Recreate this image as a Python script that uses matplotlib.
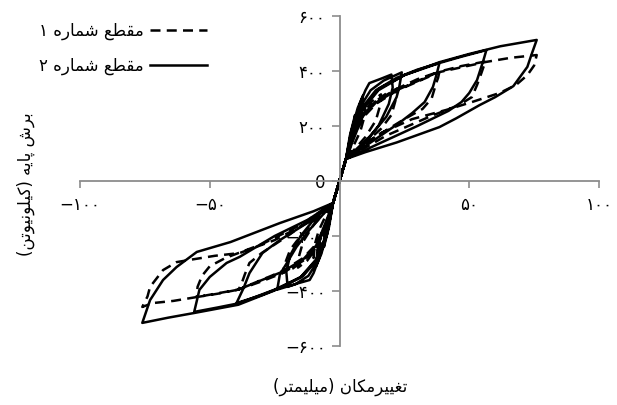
import re
import matplotlib
matplotlib.use("Agg")
import matplotlib.pyplot as plt

plt.rcParams["font.family"] = ["DejaVu Sans"]

# Persian letter forms: isolated, final, initial, medial
FORMS = {
    "ا": ("\ufe8d", "\ufe8e", None, None),
    "ب": ("\ufe8f", "\ufe90", "\ufe91", "\ufe92"),
    "پ": ("\ufb56", "\ufb57", "\ufb58", "\ufb59"),
    "ت": ("\ufe95", "\ufe96", "\ufe97", "\ufe98"),
    "ر": ("\ufead", "\ufeae", None, None),
    "ش": ("\ufeb5", "\ufeb6", "\ufeb7", "\ufeb8"),
    "ط": ("\ufec1", "\ufec2", "\ufec3", "\ufec4"),
    "ع": ("\ufec9", "\ufeca", "\ufecb", "\ufecc"),
    "غ": ("\ufecd", "\ufece", "\ufecf", "\ufed0"),
    "ق": ("\ufed5", "\ufed6", "\ufed7", "\ufed8"),
    "ک": ("\ufb8e", "\ufb8f", "\ufb90", "\ufb91"),
    "ل": ("\ufedd", "\ufede", "\ufedf", "\ufee0"),
    "م": ("\ufee1", "\ufee2", "\ufee3", "\ufee4"),
    "ن": ("\ufee5", "\ufee6", "\ufee7", "\ufee8"),
    "ه": ("\ufee9", "\ufeea", "\ufeeb", "\ufeec"),
    "و": ("\ufeed", "\ufeee", None, None),
    "ی": ("\ufbfc", "\ufbfd", "\ufbfe", "\ufbff"),
}
MIRROR = {"(": ")", ")": "("}


def farsi(text):
    """Join Persian letters and put them in left-to-right drawing order."""
    out = []
    for i, ch in enumerate(text):
        if ch not in FORMS:
            out.append(MIRROR.get(ch, ch))
            continue
        prev = text[i - 1] if i > 0 else ""
        nxt = text[i + 1] if i + 1 < len(text) else ""
        joins_prev = prev in FORMS and FORMS[prev][2] is not None
        joins_next = nxt in FORMS and FORMS[ch][2] is not None
        iso, fin, ini, med = FORMS[ch]
        if joins_prev and joins_next:
            out.append(med)
        elif joins_prev:
            out.append(fin)
        elif joins_next:
            out.append(ini)
        else:
            out.append(iso)
    vis = "".join(reversed(out))
    # numbers keep their own left-to-right order
    return re.sub(r"[\u06f0-\u06f9]+", lambda m: m.group(0)[::-1], vis)


# section 1 (dashed): displacement (mm) and base shear (kN), cycle by cycle
sec1_disp = [
    2.5, 4, 6, 5.5, 4.5, 2.5, -2.5, -4, -6, -5.5, -4.5, -2.5,
    2.5, 5, 7.5, 10, 9.5, 8, 5, 2.5, -2.5, -5, -7.5, -10, -9.5, -8, -5, -2.5,
    2.5, 5, 9, 12.5, 16, 15.5, 14, 10, 2.5, -2.5, -5, -9, -12.5, -16, -15.5, -14, -10, -2.5,
    2.5, 5, 9, 14, 18, 22, 21.5, 20, 16, 9, 2.5, -2.5, -5, -9, -14, -18, -22, -21, -19, -16.6, -10, -2.5,
    2.5, 5, 9, 14, 22, 30, 38.5, 38, 37.4, 35.5, 32, 25, 12, 2.5,
    -2.5, -5, -9, -14, -22, -30, -39, -38, -36.5, -34.7, -30, -20, -2.5,
    2.5, 5, 9, 14, 22, 38.5, 47, 56.5, 55.5, 54.7, 53, 51, 46, 35, 18, 2.5,
    -2.5, -5, -9, -14, -22, -39, -47, -55, -54.7, -53, -50, -44, -30, -15, -2.5,
    2.5, 5, 9, 14, 22, 38.5, 56.5, 66, 76, 75, 72.4, 68, 61.7, 51, 41, 28, 15, 2.5,
    -2.5, -5, -9, -14, -22, -39, -55, -64, -72, -76, -74, -73, -68, -62.8, -57.8, -48, -38.5, -25, -12, -2.5,
]
sec1_force = [
    80, 150, 220, 175, 130, 80, -80, -150, -220, -175, -130, -80,
    80, 170, 235, 280, 230, 180, 120, 80, -80, -170, -235, -280, -230, -180, -120, -80,
    80, 165, 245, 290, 315, 270, 220, 160, 80, -80, -165, -245, -290, -315, -270, -220, -160, -80,
    80, 160, 240, 290, 318, 335, 290, 240, 190, 130, 80, -80, -160, -240, -290, -318, -335, -300, -250, -220, -150, -80,
    80, 160, 240, 290, 335, 370, 398, 375, 360, 300, 262, 225, 150, 80,
    -80, -160, -240, -290, -335, -365, -395, -380, -340, -298, -262, -200, -80,
    80, 155, 235, 285, 330, 398, 418, 435, 415, 393, 349, 305, 276, 235, 165, 80,
    -80, -155, -235, -285, -330, -395, -410, -422, -385, -345, -310, -280, -230, -160, -80,
    80, 150, 230, 280, 328, 396, 433, 448, 458, 420, 385, 349, 320, 287, 258, 225, 170, 80,
    -80, -150, -230, -280, -328, -395, -422, -436, -444, -458, -420, -385, -324, -295, -287, -272, -262, -215, -150, -80,
]

# section 2 (solid)
sec2_disp = [
    2.5, 4, 6, 5.5, 4.5, 2.5, -2.5, -4, -6, -5.5, -4.5, -2.5,
    2.5, 4.5, 7, 9, 8.5, 7, 4.5, 2.5, -2.5, -4.5, -7, -9, -8.5, -7, -4.5, -2.5,
    2.5, 5, 8, 10, 11.5, 16, 20, 20.5, 19, 15, 9, 2.5,
    -2.5, -5, -8, -10, -11.5, -16, -20, -20.5, -19, -15, -9, -2.5,
    2.5, 5, 8, 12, 17, 24, 23, 22, 18, 12, 2.5,
    -2.5, -5, -8, -12, -17, -24, -23, -20.4, -16.6, -11.6, -2.5,
    2.5, 5, 9, 14, 22, 30, 38.5, 37.5, 36, 32.8, 28, 23, 12, 2.5,
    -2.5, -5, -9, -14, -22, -30, -39.7, -37, -34.7, -29.7, -23, -12, -2.5,
    2.5, 5, 9, 15, 25, 38.5, 47, 56.6, 55.5, 53, 50, 47, 42, 30, 15, 2.5,
    -2.5, -5, -9, -15, -25, -39, -47, -56, -54, -50, -43.5, -38.5, -25, -12, -2.5,
    2.5, 5, 9, 15, 25, 38.5, 50, 62, 76, 74, 72.4, 67, 60, 54, 45, 38.5, 22, 10, 2.5,
    -2.5, -5, -9, -15, -25, -39, -56, -66, -76, -73, -68, -62.8, -55, -42, -23, -10, -2.5,
]
sec2_force = [
    80, 165, 240, 190, 140, 80, -80, -165, -240, -190, -140, -80,
    80, 180, 265, 310, 250, 190, 130, 80, -80, -180, -265, -310, -250, -190, -130, -80,
    80, 190, 285, 330, 356, 372, 387, 340, 280, 200, 130, 80,
    -80, -190, -285, -335, -360, -372, -385, -330, -270, -200, -130, -80,
    80, 180, 270, 330, 365, 395, 340, 305, 233, 165, 80,
    -80, -200, -285, -345, -375, -395, -340, -300, -240, -178, -80,
    80, 170, 270, 330, 375, 405, 429, 390, 342, 287, 247, 211, 140, 80,
    -80, -200, -290, -345, -385, -415, -444, -390, -335, -262, -215, -150, -80,
    80, 165, 265, 335, 385, 429, 452, 476, 440, 367, 320, 287, 255, 200, 135, 80,
    -80, -200, -290, -350, -395, -445, -460, -476, -396, -349, -298, -276, -200, -140, -80,
    80, 160, 260, 330, 385, 432, 462, 490, 513, 460, 415, 345, 305, 276, 228, 196, 140, 105, 80,
    -80, -195, -285, -350, -398, -450, -480, -497, -516, -433, -360, -313, -258, -222, -153, -110, -80,
]

x_ticks = [-100, -50, 50, 100]
x_tick_labels = ["\u2212۱۰۰", "\u2212۵۰", "۵۰", "۱۰۰"]
y_ticks = [-600, -400, -200, 0, 200, 400, 600]
y_tick_labels = ["\u2212۶۰۰", "\u2212۴۰۰", "\u2212۲۰۰", "0", "۲۰۰", "۴۰۰", "۶۰۰"]

label_sec1 = "مقطع شماره ۱"
label_sec2 = "مقطع شماره ۲"
x_title = "تغییرمکان (میلیمتر)"
y_title = "برش پایه (کیلونیوتن)"

fig = plt.figure(figsize=(6.17, 4.05), dpi=100)
ax = fig.add_axes([0.1297, 0.1457, 0.8411, 0.8148])

ax.plot(sec1_disp, sec1_force, color="black", lw=1.8, ls=(0, (4, 2.5)),
        label=farsi(label_sec1))
ax.plot(sec2_disp, sec2_force, color="black", lw=1.8, label=farsi(label_sec2))

ax.set_xlim(-100, 100)
ax.set_ylim(-600, 600)
ax.spines["left"].set_position(("data", 0))
ax.spines["bottom"].set_position(("data", 0))
ax.spines["top"].set_visible(False)
ax.spines["right"].set_visible(False)
for side in ("left", "bottom"):
    ax.spines[side].set_color("#8c8c8c")
    ax.spines[side].set_linewidth(1.3)
ax.set_axisbelow(True)

ax.set_xticks(x_ticks, x_tick_labels)
ax.set_yticks(y_ticks, y_tick_labels)
ax.tick_params(axis="x", direction="out", length=5, width=1.2, color="#8c8c8c",
               pad=6, labelsize=12)
ax.tick_params(axis="y", direction="out", length=6, width=1.2, color="#8c8c8c",
               pad=4, labelsize=12)

fig.text(0.551, 0.044, farsi(x_title), ha="center", va="center", fontsize=12)
fig.text(0.042, 0.545, farsi(y_title), ha="center", va="center", fontsize=12,
         rotation=90)

ax.legend(loc="upper left", bbox_to_anchor=(0.063, 0.947),
          bbox_transform=fig.transFigure, frameon=False, markerfirst=False,
          fontsize=12, handlelength=3.4, handletextpad=0.4, labelspacing=1.0,
          borderpad=0, borderaxespad=0)

fig.savefig("out.png", dpi=100)
